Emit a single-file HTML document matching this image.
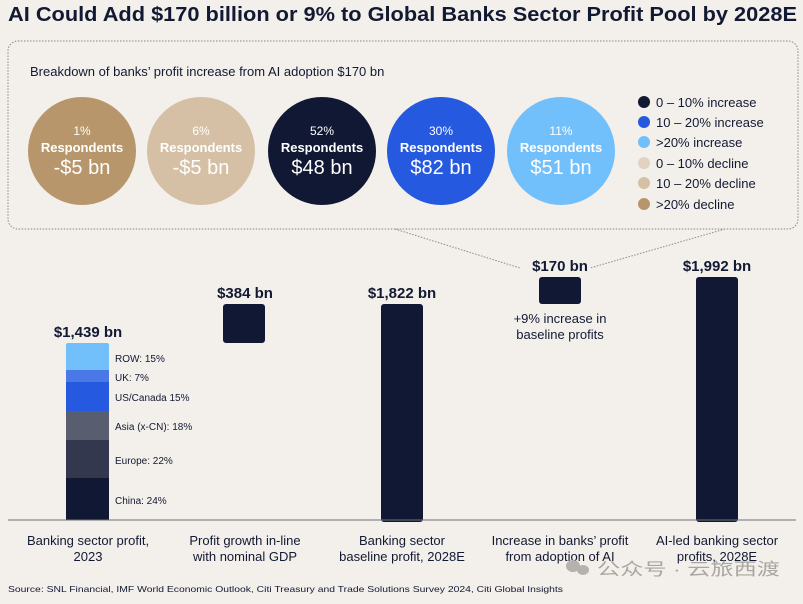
<!DOCTYPE html>
<html><head><meta charset="utf-8"><style>
body{margin:0;background:#f3efea;}
svg text{font-family:"Liberation Sans","Noto Sans CJK SC",sans-serif;}
</style></head><body>
<svg width="803" height="599" viewBox="0 0 803 599" xmlns="http://www.w3.org/2000/svg">
<rect width="803" height="599" fill="#f3efea"/>
<text x="8" y="21" font-size="20" font-weight="bold" fill="#121933" textLength="789" lengthAdjust="spacingAndGlyphs">AI Could Add $170 billion or 9% to Global Banks Sector Profit Pool by 2028E</text>
<rect x="8" y="41" width="790" height="188" rx="10" fill="none" stroke="#8a8a8a" stroke-width="1" stroke-dasharray="1.5,1.5"/>
<line x1="395" y1="229" x2="520" y2="268" stroke="#8a8a8a" stroke-dasharray="1.5,1.5"/>
<line x1="725" y1="229" x2="590" y2="268" stroke="#8a8a8a" stroke-dasharray="1.5,1.5"/>
<text x="30" y="76" font-size="13" fill="#121933">Breakdown of banks’ profit increase from AI adoption $170 bn</text>
<g text-anchor="middle" fill="#fff">
<circle cx="82" cy="151" r="54" fill="#b8966c"/>
<text x="82" y="135" font-size="12" fill="#fff">1%</text><text x="82" y="152" font-size="13" font-weight="bold" fill="#fff">Respondents</text><text x="82" y="174" font-size="20" fill="#fff">-$5 bn</text>
<circle cx="201" cy="151" r="54" fill="#d5c0a5"/>
<text x="201" y="135" font-size="12" fill="#fff">6%</text><text x="201" y="152" font-size="13" font-weight="bold" fill="#fff">Respondents</text><text x="201" y="174" font-size="20" fill="#fff">-$5 bn</text>
<circle cx="322" cy="151" r="54" fill="#111833"/>
<text x="322" y="135" font-size="12" fill="#fff">52%</text><text x="322" y="152" font-size="13" font-weight="bold" fill="#fff">Respondents</text><text x="322" y="174" font-size="20" fill="#fff">$48 bn</text>
<circle cx="441" cy="151" r="54" fill="#2459e0"/>
<text x="441" y="135" font-size="12" fill="#fff">30%</text><text x="441" y="152" font-size="13" font-weight="bold" fill="#fff">Respondents</text><text x="441" y="174" font-size="20" fill="#fff">$82 bn</text>
<circle cx="561" cy="151" r="54" fill="#72c0fb"/>
<text x="561" y="135" font-size="12" fill="#fff">11%</text><text x="561" y="152" font-size="13" font-weight="bold" fill="#fff">Respondents</text><text x="561" y="174" font-size="20" fill="#fff">$51 bn</text>
</g>
<g font-size="13" fill="#121933">
<circle cx="644" cy="102" r="6" fill="#111833"/><text x="656" y="107">0 – 10% increase</text>
<circle cx="644" cy="122" r="6" fill="#2459e0"/><text x="656" y="127">10 – 20% increase</text>
<circle cx="644" cy="142" r="6" fill="#72c0fb"/><text x="656" y="147">&gt;20% increase</text>
<circle cx="644" cy="163" r="6" fill="#e2d3c0"/><text x="656" y="168">0 – 10% decline</text>
<circle cx="644" cy="183" r="6" fill="#d5c0a5"/><text x="656" y="188">10 – 20% decline</text>
<circle cx="644" cy="204" r="6" fill="#b8966c"/><text x="656" y="209">&gt;20% decline</text>
</g>
<rect x="66" y="343" width="43" height="28" rx="2" fill="#72c0fb"/>
<rect x="66" y="370" width="43" height="12" fill="#4a78e6"/>
<rect x="66" y="382" width="43" height="29" fill="#2459e0"/>
<rect x="66" y="411" width="43" height="29" fill="#585e70"/>
<rect x="66" y="440" width="43" height="38" fill="#33384f"/>
<rect x="66" y="478" width="43" height="42" fill="#111833"/>
<g font-size="10" fill="#121933">
<text x="115" y="362">ROW: 15%</text>
<text x="115" y="381">UK: 7%</text>
<text x="115" y="401">US/Canada 15%</text>
<text x="115" y="430">Asia (x-CN): 18%</text>
<text x="115" y="464">Europe: 22%</text>
<text x="115" y="504">China: 24%</text>
</g>
<rect x="223" y="304" width="42" height="39" rx="3" fill="#111833"/>
<rect x="381" y="304" width="42" height="218" rx="3" fill="#111833"/>
<rect x="539" y="277" width="42" height="27" rx="3" fill="#111833"/>
<rect x="696" y="277" width="42" height="245" rx="3" fill="#111833"/>
<line x1="8" y1="520" x2="796" y2="520" stroke="#6d6f7a" stroke-width="1"/>
<g font-size="15" font-weight="bold" fill="#121933" text-anchor="middle">
<text x="88" y="337">$1,439 bn</text>
<text x="245" y="298">$384 bn</text>
<text x="402" y="298">$1,822 bn</text>
<text x="560" y="271">$170 bn</text>
<text x="717" y="271">$1,992 bn</text>
</g>
<g font-size="13" fill="#121933" text-anchor="middle">
<text x="560" y="323">+9% increase in</text><text x="560" y="339">baseline profits</text>
<text x="88" y="545">Banking sector profit,</text><text x="88" y="561">2023</text>
<text x="245" y="545">Profit growth in-line</text><text x="245" y="561">with nominal GDP</text>
<text x="402" y="545">Banking sector</text><text x="402" y="561">baseline profit, 2028E</text>
<text x="560" y="545">Increase in banks’ profit</text><text x="560" y="561">from adoption of AI</text>
<text x="717" y="545">AI-led banking sector</text><text x="717" y="561">profits, 2028E</text>
</g>
<text x="8" y="592" font-size="8.5" fill="#121933" textLength="555" lengthAdjust="spacingAndGlyphs">Source: SNL Financial, IMF World Economic Outlook, Citi Treasury and Trade Solutions Survey 2024, Citi Global Insights</text>
<ellipse cx="573" cy="566" rx="7" ry="6" fill="#b5b2ad"/><ellipse cx="583" cy="570" rx="6" ry="5" fill="#b5b2ad"/>
<text x="597" y="575" font-size="17" fill="#a9a6a1" textLength="183" lengthAdjust="spacingAndGlyphs">公众号 · 云旅西渡</text>
</svg>
</body></html>
